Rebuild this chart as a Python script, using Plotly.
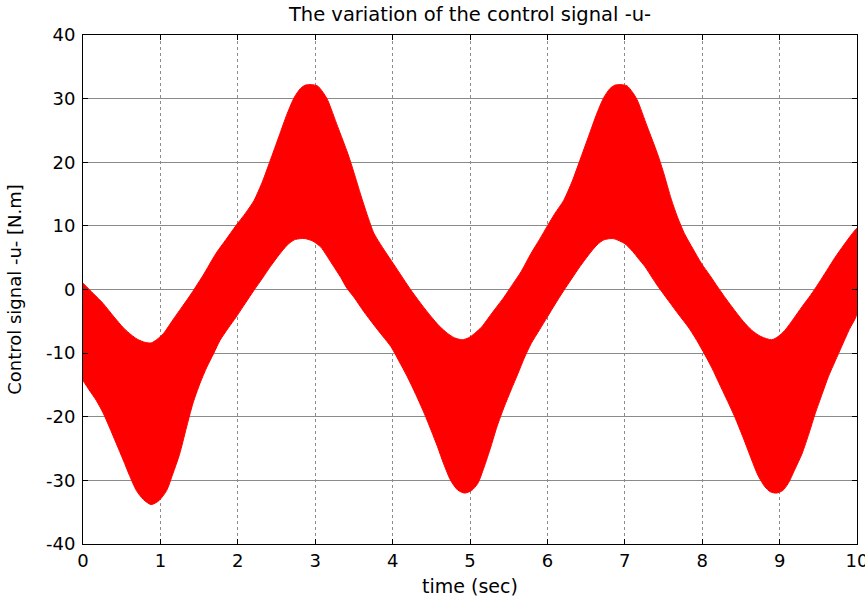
import plotly.graph_objects as go

# Upper envelope of the chattering control signal u(t)
t_upper = [0.00, 0.13, 0.26, 0.40, 0.52, 0.62, 0.70, 0.80, 0.88, 0.95, 1.04, 1.16, 1.27, 1.38,
           1.55, 1.72, 1.85, 1.98, 2.10, 2.21, 2.32, 2.42, 2.53, 2.64, 2.73, 2.81, 2.87, 2.95,
           3.03, 3.10, 3.16, 3.29, 3.42, 3.50, 3.59, 3.67, 3.76, 3.87, 3.98, 4.10, 4.22, 4.37,
           4.50, 4.60, 4.71, 4.80, 4.90, 4.98, 5.06, 5.15, 5.23, 5.34, 5.44, 5.55, 5.66, 5.79,
           5.90, 6.00, 6.10, 6.21, 6.32, 6.42, 6.53, 6.64, 6.73, 6.81, 6.87, 6.95, 7.03, 7.10,
           7.16, 7.29, 7.42, 7.50, 7.60, 7.68, 7.77, 7.88, 7.99, 8.10, 8.20, 8.31, 8.42, 8.53,
           8.64, 8.76, 8.90, 8.98, 9.07, 9.18, 9.29, 9.40, 9.50, 9.61, 9.72, 9.83, 9.94, 10.00]
u_upper = [1.0, -0.6, -2.2, -4.3, -6.0, -7.1, -7.8, -8.3, -8.4, -7.9, -6.9, -4.8, -2.9, -1.0,
           2.2, 5.7, 7.9, 10.1, 12.0, 14.0, 17.0, 20.3, 24.0, 27.7, 30.2, 31.6, 32.1, 32.2,
           32.0, 31.0, 29.8, 25.6, 21.4, 18.4, 14.8, 11.8, 8.8, 6.6, 4.6, 2.4, 0.2, -2.3,
           -4.3, -5.7, -6.9, -7.6, -7.9, -7.6, -6.9, -5.9, -4.6, -2.8, -1.2, 0.8, 2.8, 5.7,
           7.9, 10.0, 12.0, 14.0, 17.0, 20.3, 24.0, 27.7, 30.2, 31.6, 32.1, 32.2, 32.0, 31.0,
           29.8, 25.6, 21.4, 18.4, 14.2, 11.4, 8.8, 6.4, 4.1, 2.2, 0.4, -1.5, -3.3, -5.0,
           -6.4, -7.4, -7.9, -7.4, -6.4, -4.6, -2.7, -0.9, 0.9, 3.0, 5.1, 7.0, 8.8, 9.6]

# Lower envelope of the chattering control signal u(t)
t_lower = [0.00, 0.08, 0.17, 0.26, 0.34, 0.43, 0.52, 0.60, 0.69, 0.78, 0.88, 0.98, 1.08, 1.16,
           1.25, 1.33, 1.42, 1.51, 1.60, 1.69, 1.77, 1.88, 1.98, 2.10, 2.21, 2.32, 2.42, 2.53,
           2.64, 2.73, 2.81, 2.87, 2.97, 3.07, 3.15, 3.24, 3.33, 3.41, 3.50, 3.63, 3.76, 3.87,
           3.98, 4.08, 4.19, 4.30, 4.41, 4.50, 4.58, 4.66, 4.75, 4.84, 4.93, 5.02, 5.10, 5.18,
           5.27, 5.35, 5.44, 5.53, 5.62, 5.70, 5.79, 5.90, 6.00, 6.10, 6.21, 6.32, 6.42, 6.53,
           6.64, 6.73, 6.85, 7.00, 7.10, 7.18, 7.26, 7.40, 7.56, 7.70, 7.82, 7.91, 8.00, 8.12,
           8.24, 8.33, 8.42, 8.53, 8.64, 8.72, 8.81, 8.88, 8.96, 9.04, 9.11, 9.20, 9.29, 9.38,
           9.46, 9.55, 9.63, 9.72, 9.80, 9.90, 10.00]
u_lower = [-14.3, -15.8, -17.4, -19.4, -21.6, -24.2, -26.8, -29.2, -31.6, -33.0, -33.8, -33.2, -31.6, -29.0,
           -25.8, -22.0, -17.9, -14.8, -12.2, -10.0, -8.0, -6.0, -4.3, -2.1, -0.1, 1.8, 3.6, 5.4,
           7.0, 7.8, 8.0, 8.0, 7.6, 6.7, 5.3, 3.6, 1.9, 0.2, -1.2, -3.5, -5.6, -7.3,
           -9.0, -11.2, -13.7, -16.5, -19.5, -22.2, -24.7, -27.4, -30.0, -31.5, -32.0, -31.6, -30.5, -28.0,
           -24.7, -21.5, -18.5, -15.8, -13.2, -10.8, -8.5, -6.3, -4.3, -2.3, -0.2, 1.8, 3.6, 5.4,
           7.0, 7.8, 8.0, 7.2, 6.0, 4.8, 3.6, 1.0, -1.7, -4.0, -5.9, -7.6, -9.5, -12.2,
           -15.3, -17.6, -20.0, -23.3, -26.8, -29.2, -31.0, -31.8, -32.0, -31.6, -30.5, -28.2, -25.8, -22.6,
           -19.5, -16.4, -13.7, -11.2, -9.0, -6.3, -3.8]

x_ticks = [0, 1, 2, 3, 4, 5, 6, 7, 8, 9, 10]
y_ticks = [-40, -30, -20, -10, 0, 10, 20, 30, 40]

FONT = "DejaVu Sans"

fig = go.Figure()

# The fast switching of u fills the band between its two envelopes
fig.add_trace(go.Scatter(
    x=t_upper + t_lower[::-1],
    y=u_upper + u_lower[::-1],
    fill="toself",
    fillcolor="#ff0000",
    line=dict(color="#ff0000", width=1, shape="spline", smoothing=0.7),
    mode="lines",
    hoverinfo="skip",
    showlegend=False,
))

fig.update_layout(
    width=865,
    height=597,
    margin=dict(l=83, r=8, t=35, b=53),
    paper_bgcolor="white",
    plot_bgcolor="white",
    font=dict(family=FONT, size=18, color="black"),
    title=dict(
        text="The variation of the control signal -u-",
        x=(83 + 857) / 2 / 865,
        xanchor="center",
        y=1 - 14 / 597,
        yanchor="middle",
        font=dict(family=FONT, size=19.5, color="black"),
    ),
)

fig.update_xaxes(
    range=[0, 10],
    tickvals=x_ticks,
    ticktext=[str(v) for v in x_ticks],
    ticks="inside",
    ticklen=5,
    tickcolor="black",
    ticklabeloverflow="allow",
    automargin=False,
    showline=True,
    linecolor="black",
    linewidth=1,
    mirror="allticks",
    showgrid=True,
    gridcolor="#8c8c8c",
    griddash="dot",
    gridwidth=1,
    zeroline=False,
    tickfont=dict(family=FONT, size=18, color="black"),
    title=dict(text="time (sec)", font=dict(family=FONT, size=19, color="black"), standoff=12),
)

fig.update_yaxes(
    range=[-40, 40],
    tickvals=y_ticks,
    ticktext=[str(v) for v in y_ticks],
    ticks="inside",
    ticklen=5,
    tickcolor="black",
    ticklabelstandoff=3,
    automargin=False,
    showline=True,
    linecolor="black",
    linewidth=1,
    mirror="allticks",
    showgrid=True,
    gridcolor="#8a8a8a",
    gridwidth=1,
    zeroline=False,
    tickfont=dict(family=FONT, size=18, color="black"),
    title=dict(text="Control signal -u- [N.m]", font=dict(family=FONT, size=18, color="black"), standoff=19),
)

fig.write_html("out.html")
